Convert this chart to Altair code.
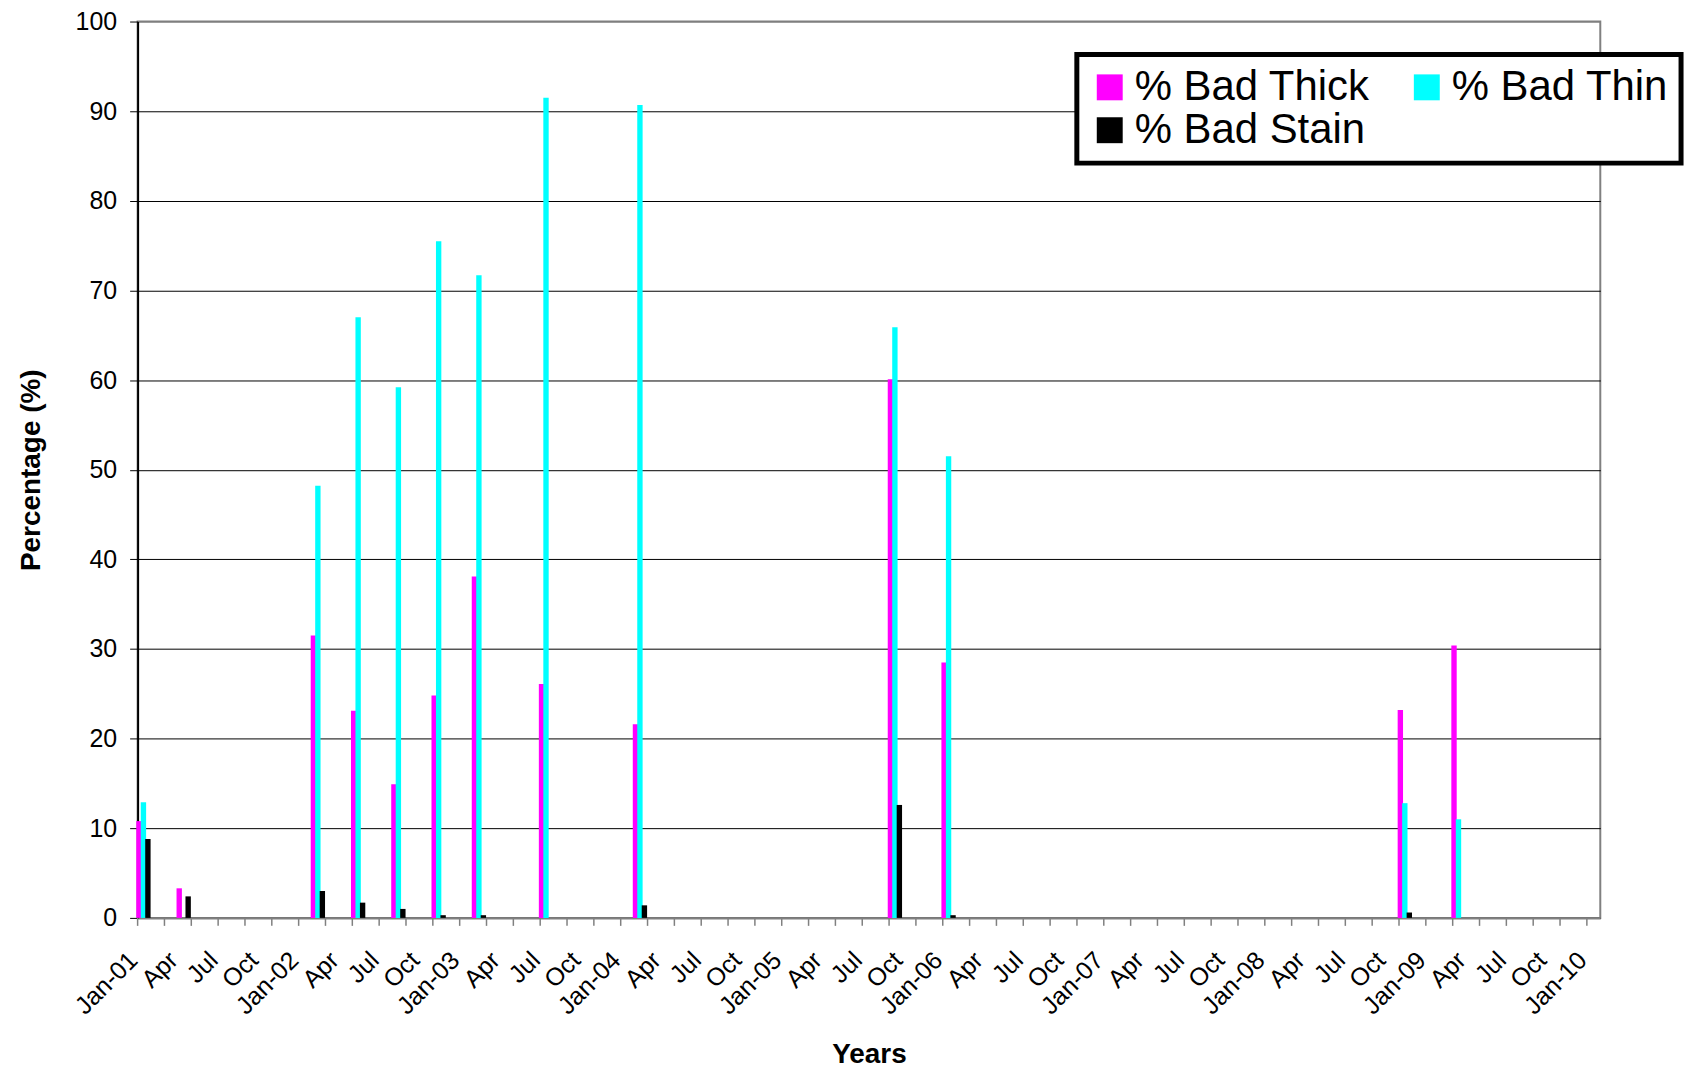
import altair as alt
import pandas as pd

# ---- data ----
dates = ["2001-01", "2001-04", "2002-02", "2002-05", "2002-08", "2002-11", "2003-02",
         "2003-07", "2004-02", "2005-09", "2006-01", "2008-11", "2009-03"]
bad_thick = [10.8, 3.3, 31.5, 23.1, 14.9, 24.8, 38.1, 26.1, 21.6, 60.1, 28.5, 23.2, 30.4]
bad_thin = [12.9, 0.0, 48.2, 67.0, 59.2, 75.5, 71.7, 91.5, 90.7, 65.9, 51.5, 12.8, 11.0]
bad_stain = [8.8, 2.4, 3.0, 1.7, 1.0, 0.3, 0.3, 0.0, 1.4, 12.6, 0.3, 0.6, 0.0]

series_names = ["% Bad Thick", "% Bad Thin", "% Bad Stain"]
series_colors = ["#FF00FF", "#00FFFF", "#000000"]

# axis categories: monthly bands Jan-01 .. Jan-10
all_months = [f"{y}-{m:02d}" for y in range(2001, 2010) for m in range(1, 13)] + ["2010-01"]
label_months = [v for v in all_months if int(v[5:]) in (1, 4, 7, 10)]
tick_months = all_months[::2]
y_ticks = list(range(0, 101, 10))

rows = []
for name, vals in zip(series_names, [bad_thick, bad_thin, bad_stain]):
    for d, v in zip(dates, vals):
        rows.append({"month": d, "series": name, "value": v})
df = pd.DataFrame(rows)
tick_df = pd.DataFrame({"month": tick_months})

FONT = "Liberation Sans"
W, H = 1467, 899

label_expr = ("substring(datum.value,5,7)=='01' ? 'Jan-' + substring(datum.value,2,4) : "
              "substring(datum.value,5,7)=='04' ? 'Apr' : "
              "substring(datum.value,5,7)=='07' ? 'Jul' : 'Oct'")

xscale = alt.Scale(domain=all_months, paddingInner=0, paddingOuter=0)
xaxis = alt.Axis(values=label_months, labelExpr=label_expr, bandPosition=0,
                 ticks=False, grid=False, labelAngle=-45, labelAlign="right",
                 labelBaseline="middle", labelPadding=38, labelOffset=-11,
                 labelFont=FONT, labelFontSize=25, labelColor="black",
                 labelOverlap=False, labelBound=False, labelFlush=False,
                 domainColor="#808080", domainWidth=2,
                 title="Years", titleFont=FONT, titleFontSize=28, titleFontWeight="bold",
                 titleColor="black", titlePadding=22)

yaxis = alt.Axis(values=y_ticks, tickSize=8, tickColor="black", tickWidth=1,
                 labelFont=FONT, labelFontSize=25, labelColor="black", labelPadding=13,
                 domainColor="black", domainWidth=2,
                 grid=True, gridWidth=1,
                 gridColor={"condition": {"test": "datum.value === 100", "value": "#808080"},
                            "value": "black"},
                 title="Percentage (%)", titleFont=FONT, titleFontSize=28,
                 titleFontWeight="bold", titleColor="black", titlePadding=30)

legend = alt.Legend(title=None, orient="none", legendX=942, legendY=33, columns=2,
                    direction="horizontal",
                    symbolType="square", symbolSize=676, symbolStrokeWidth=0,
                    labelFont=FONT, labelFontSize=42, labelColor="black", labelLimit=500,
                    labelOffset=4, columnPadding=36, rowPadding=1, padding=12,
                    strokeColor="black", fillColor="white")

bars = alt.Chart(df).mark_bar(width=alt.RelativeBandSize(1.2)).encode(
    x=alt.X("month:O", scale=xscale, axis=xaxis),
    xOffset=alt.XOffset("series:N", sort=series_names,
                        scale=alt.Scale(domain=series_names, paddingInner=0, paddingOuter=0)),
    y=alt.Y("value:Q", scale=alt.Scale(domain=[0, 100], nice=False), axis=yaxis),
    color=alt.Color("series:N", scale=alt.Scale(domain=series_names, range=series_colors),
                    legend=legend),
)

ticks = alt.Chart(tick_df).mark_rule(color="#808080", strokeWidth=1.5).encode(
    x=alt.X("month:O", bandPosition=0, scale=xscale, axis=xaxis),
    y=alt.value(H),
    y2=alt.value(H + 8),
)

chart = alt.layer(bars, ticks).properties(
    width=W, height=H,
    autosize=alt.AutoSizeParams(type="none"),
    padding={"left": 130, "top": 12, "right": 98, "bottom": 158},
).configure_view(
    stroke="#808080", strokeWidth=2
).configure_legend(
    strokeWidth=5
)

chart.save("out.html", embed_options={"renderer": "svg", "actions": False})
